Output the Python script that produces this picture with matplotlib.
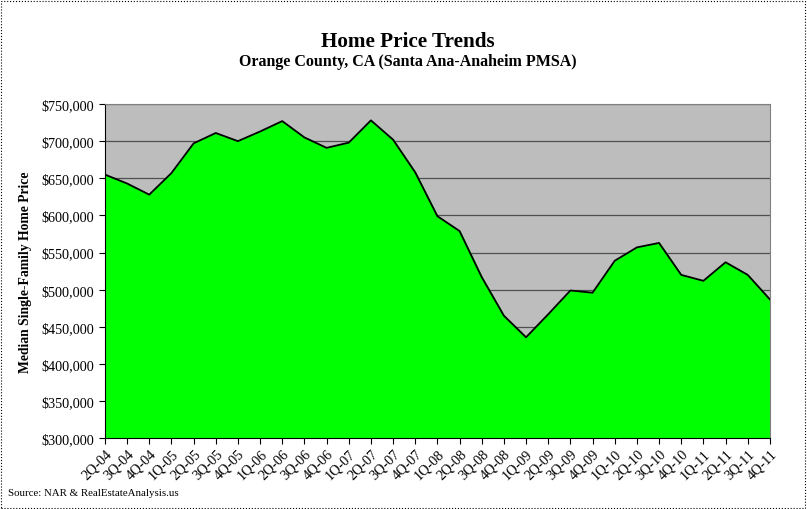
import matplotlib
matplotlib.use("Agg")
import matplotlib.pyplot as plt
from matplotlib.patches import Rectangle
from matplotlib.ticker import FuncFormatter, MultipleLocator

quarters = ["2Q-04", "3Q-04", "4Q-04",
            "1Q-05", "2Q-05", "3Q-05", "4Q-05",
            "1Q-06", "2Q-06", "3Q-06", "4Q-06",
            "1Q-07", "2Q-07", "3Q-07", "4Q-07",
            "1Q-08", "2Q-08", "3Q-08", "4Q-08",
            "1Q-09", "2Q-09", "3Q-09", "4Q-09",
            "1Q-10", "2Q-10", "3Q-10", "4Q-10",
            "1Q-11", "2Q-11", "3Q-11", "4Q-11"]
prices = [655000, 643000, 628000,
          657000, 697000, 711000, 700000,
          713000, 727000, 705000, 691000,
          698000, 728000, 702000, 658000,
          599000, 579000, 517000, 465000,
          436000, 467000, 499000, 496000,
          539000, 557000, 563000, 520000,
          512000, 537000, 520000, 487000]

plt.rcParams['font.family'] = ['Liberation Serif', 'DejaVu Serif']

fig = plt.figure(figsize=(8.07, 5.10), dpi=100)
ax = fig.add_axes([0.130, 0.1386, 0.824, 0.6555])

x = list(range(len(quarters)))
ax.set_facecolor('#bdbdbd')
ax.fill_between(x, prices, 300000, color='#00ff00', zorder=2)
ax.plot(x, prices, color='black', lw=1.3, zorder=3)

ax.set_xlim(0, len(quarters) - 1)
ax.set_ylim(300000, 750000)
ax.yaxis.set_major_locator(MultipleLocator(50000))
ax.yaxis.set_major_formatter(FuncFormatter(lambda v, p: f"${v:,.0f}"))
ax.grid(axis='y', color='#505050', lw=0.9, zorder=1)
ax.set_axisbelow(True)

ax.set_xticks(x)
ax.set_xticklabels(quarters, rotation=45, ha='right', rotation_mode='anchor')
ax.tick_params(axis='both', direction='out', length=4, width=0.8, labelsize=10.2)
ax.tick_params(axis='x', pad=2)

for side in ['top', 'right']:
    ax.spines[side].set_color('#808080')
    ax.spines[side].set_linewidth(0.8)
for side in ['left', 'bottom']:
    ax.spines[side].set_color('black')
    ax.spines[side].set_linewidth(0.8)

ax.set_ylabel("Median Single-Family Home Price", fontsize=9.8, fontweight='bold', labelpad=7)

fig.text(0.505, 0.918, "Home Price Trends", ha='center', va='center',
         fontsize=15.2, fontweight='bold')
fig.text(0.505, 0.878, "Orange County, CA (Santa Ana-Anaheim PMSA)", ha='center',
         va='center', fontsize=11.5, fontweight='bold')
fig.text(0.010, 0.033, "Source: NAR & RealEstateAnalysis.us", ha='left', va='center',
         fontsize=7.8)

# dotted frame around the whole chart
fig.patches.append(Rectangle((0.001, 0.002), 0.997, 0.995, transform=fig.transFigure,
                             fill=False, ec='black', lw=0.8, ls=':'))

fig.savefig("out.png", dpi=100)
